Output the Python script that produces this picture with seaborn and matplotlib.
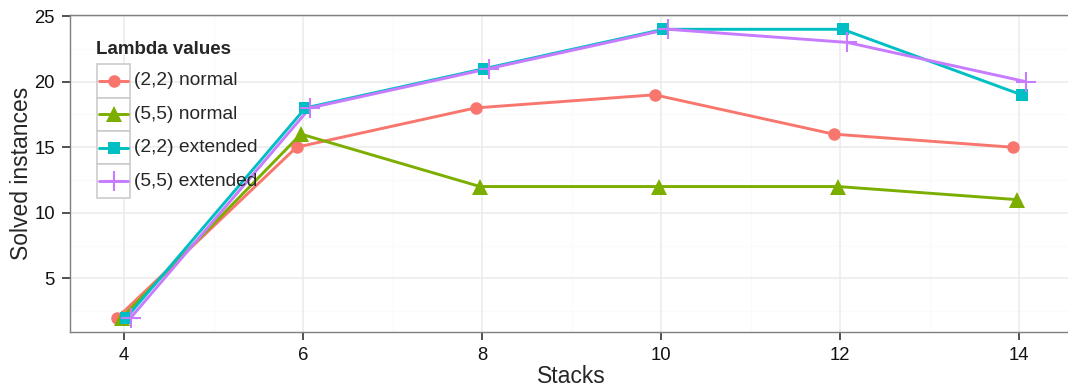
import numpy as np
import pandas as pd
import matplotlib
matplotlib.use("Agg")
import matplotlib.pyplot as plt
import seaborn as sns
from matplotlib.patches import Rectangle
from matplotlib.lines import Line2D

stacks = [4, 6, 8, 10, 12, 14]
series_names = ["(2,2) normal", "(5,5) normal", "(2,2) extended", "(5,5) extended"]
normal_22 = [2, 15, 18, 19, 16, 15]
normal_55 = [2, 16, 12, 12, 12, 11]
extended_22 = [2, 18, 21, 24, 24, 19]
extended_55 = [2, 18, 21, 24, 23, 20]

colors = ["#F8766D", "#7CAE00", "#00BFC4", "#C77CFF"]
markers = ["o", "^", "s", "+"]
msizes = [9, 11, 9, 14]
dodge = [-0.075, -0.025, 0.025, 0.075]

rows = []
for name, vals, off in zip(series_names, [normal_22, normal_55, extended_22, extended_55], dodge):
    for s, v in zip(stacks, vals):
        rows.append({"Stacks": s + off, "Solved": v, "Lambda": name})
df = pd.DataFrame(rows)

sns.set_style("white")
plt.rcParams["font.family"] = ["Liberation Sans", "DejaVu Sans"]

W, H = 1068, 387
fig = plt.figure(figsize=(10.68, 3.87), dpi=100)
# panel runs a bit past the right edge, as in the original (cropped) image
ax = fig.add_axes([69.5 / W, 1 - 332 / H, (1074 - 69.5) / W, (332 - 15) / H])

# grid like theme_bw
for xm in [5, 7, 9, 11, 13]:
    ax.axvline(xm, color="#FAFAFA", lw=0.8, zorder=0)
for ym in [2.5, 7.5, 12.5, 17.5, 22.5]:
    ax.axhline(ym, color="#FAFAFA", lw=0.8, zorder=0)
for xm in stacks:
    ax.axvline(xm, color="#EBEBEB", lw=1.1, zorder=0)
for ym in [5, 10, 15, 20, 25]:
    ax.axhline(ym, color="#EBEBEB", lw=1.1, zorder=0)

palette = dict(zip(series_names, colors))
sns.lineplot(data=df, x="Stacks", y="Solved", hue="Lambda", style="Lambda",
             hue_order=series_names, style_order=series_names,
             palette=palette, dashes=False, markers=False, lw=2.1,
             legend=False, ax=ax, zorder=2)
for name, c, m, ms in zip(series_names, colors, markers, msizes):
    sub = df[df["Lambda"] == name]
    ax.plot(sub["Stacks"], sub["Solved"], ls="none", marker=m, ms=ms, color=c,
            mew=1.5 if m == "+" else 0, zorder=3)

ax.set_xlim(3.389, 14.611)
ax.set_ylim(0.9, 25.09)
ax.set_xticks(stacks)
ax.set_yticks([5, 10, 15, 20, 25])
ax.tick_params(axis="both", direction="out", length=6, width=1.1, color="#222222",
               labelsize=13.3, labelcolor="#111111", bottom=True, left=True, pad=4.5)
for sp in ax.spines.values():
    sp.set_color("#7F7F7F")
    sp.set_linewidth(1.0)
ax.set_xlabel("Stacks", fontsize=16.5, labelpad=1)
ax.set_ylabel("Solved instances", fontsize=16.5, labelpad=1)


# legend drawn like ggplot guide
def fx(px):
    return px / W


def fy(py):
    return 1 - py / H


fig.text(fx(96), fy(49), "Lambda values", fontsize=13.5, fontweight="bold",
         va="center", ha="left")
top = 64
kh = 33.5
for i, (name, c, m, ms) in enumerate(zip(series_names, colors, markers, msizes)):
    y0 = top + i * kh
    fig.patches.append(Rectangle((fx(97), fy(y0 + kh)), fx(130) - fx(97), fy(y0) - fy(y0 + kh),
                                 transform=fig.transFigure, facecolor="white",
                                 edgecolor="#CCCCCC", lw=1.2, zorder=5))
    yc = fy(y0 + kh / 2)
    fig.lines.append(Line2D([fx(99), fx(128)], [yc, yc], transform=fig.transFigure,
                            color=c, lw=2.1, zorder=6))
    fig.lines.append(Line2D([fx(113.5)], [yc], transform=fig.transFigure, ls="none",
                            marker=m, ms=ms, color=c, mew=1.5 if m == "+" else 0, zorder=7))
    fig.text(fx(134), yc, name, fontsize=13.75, va="center", ha="left", zorder=8)

fig.savefig("out.png", dpi=100)
